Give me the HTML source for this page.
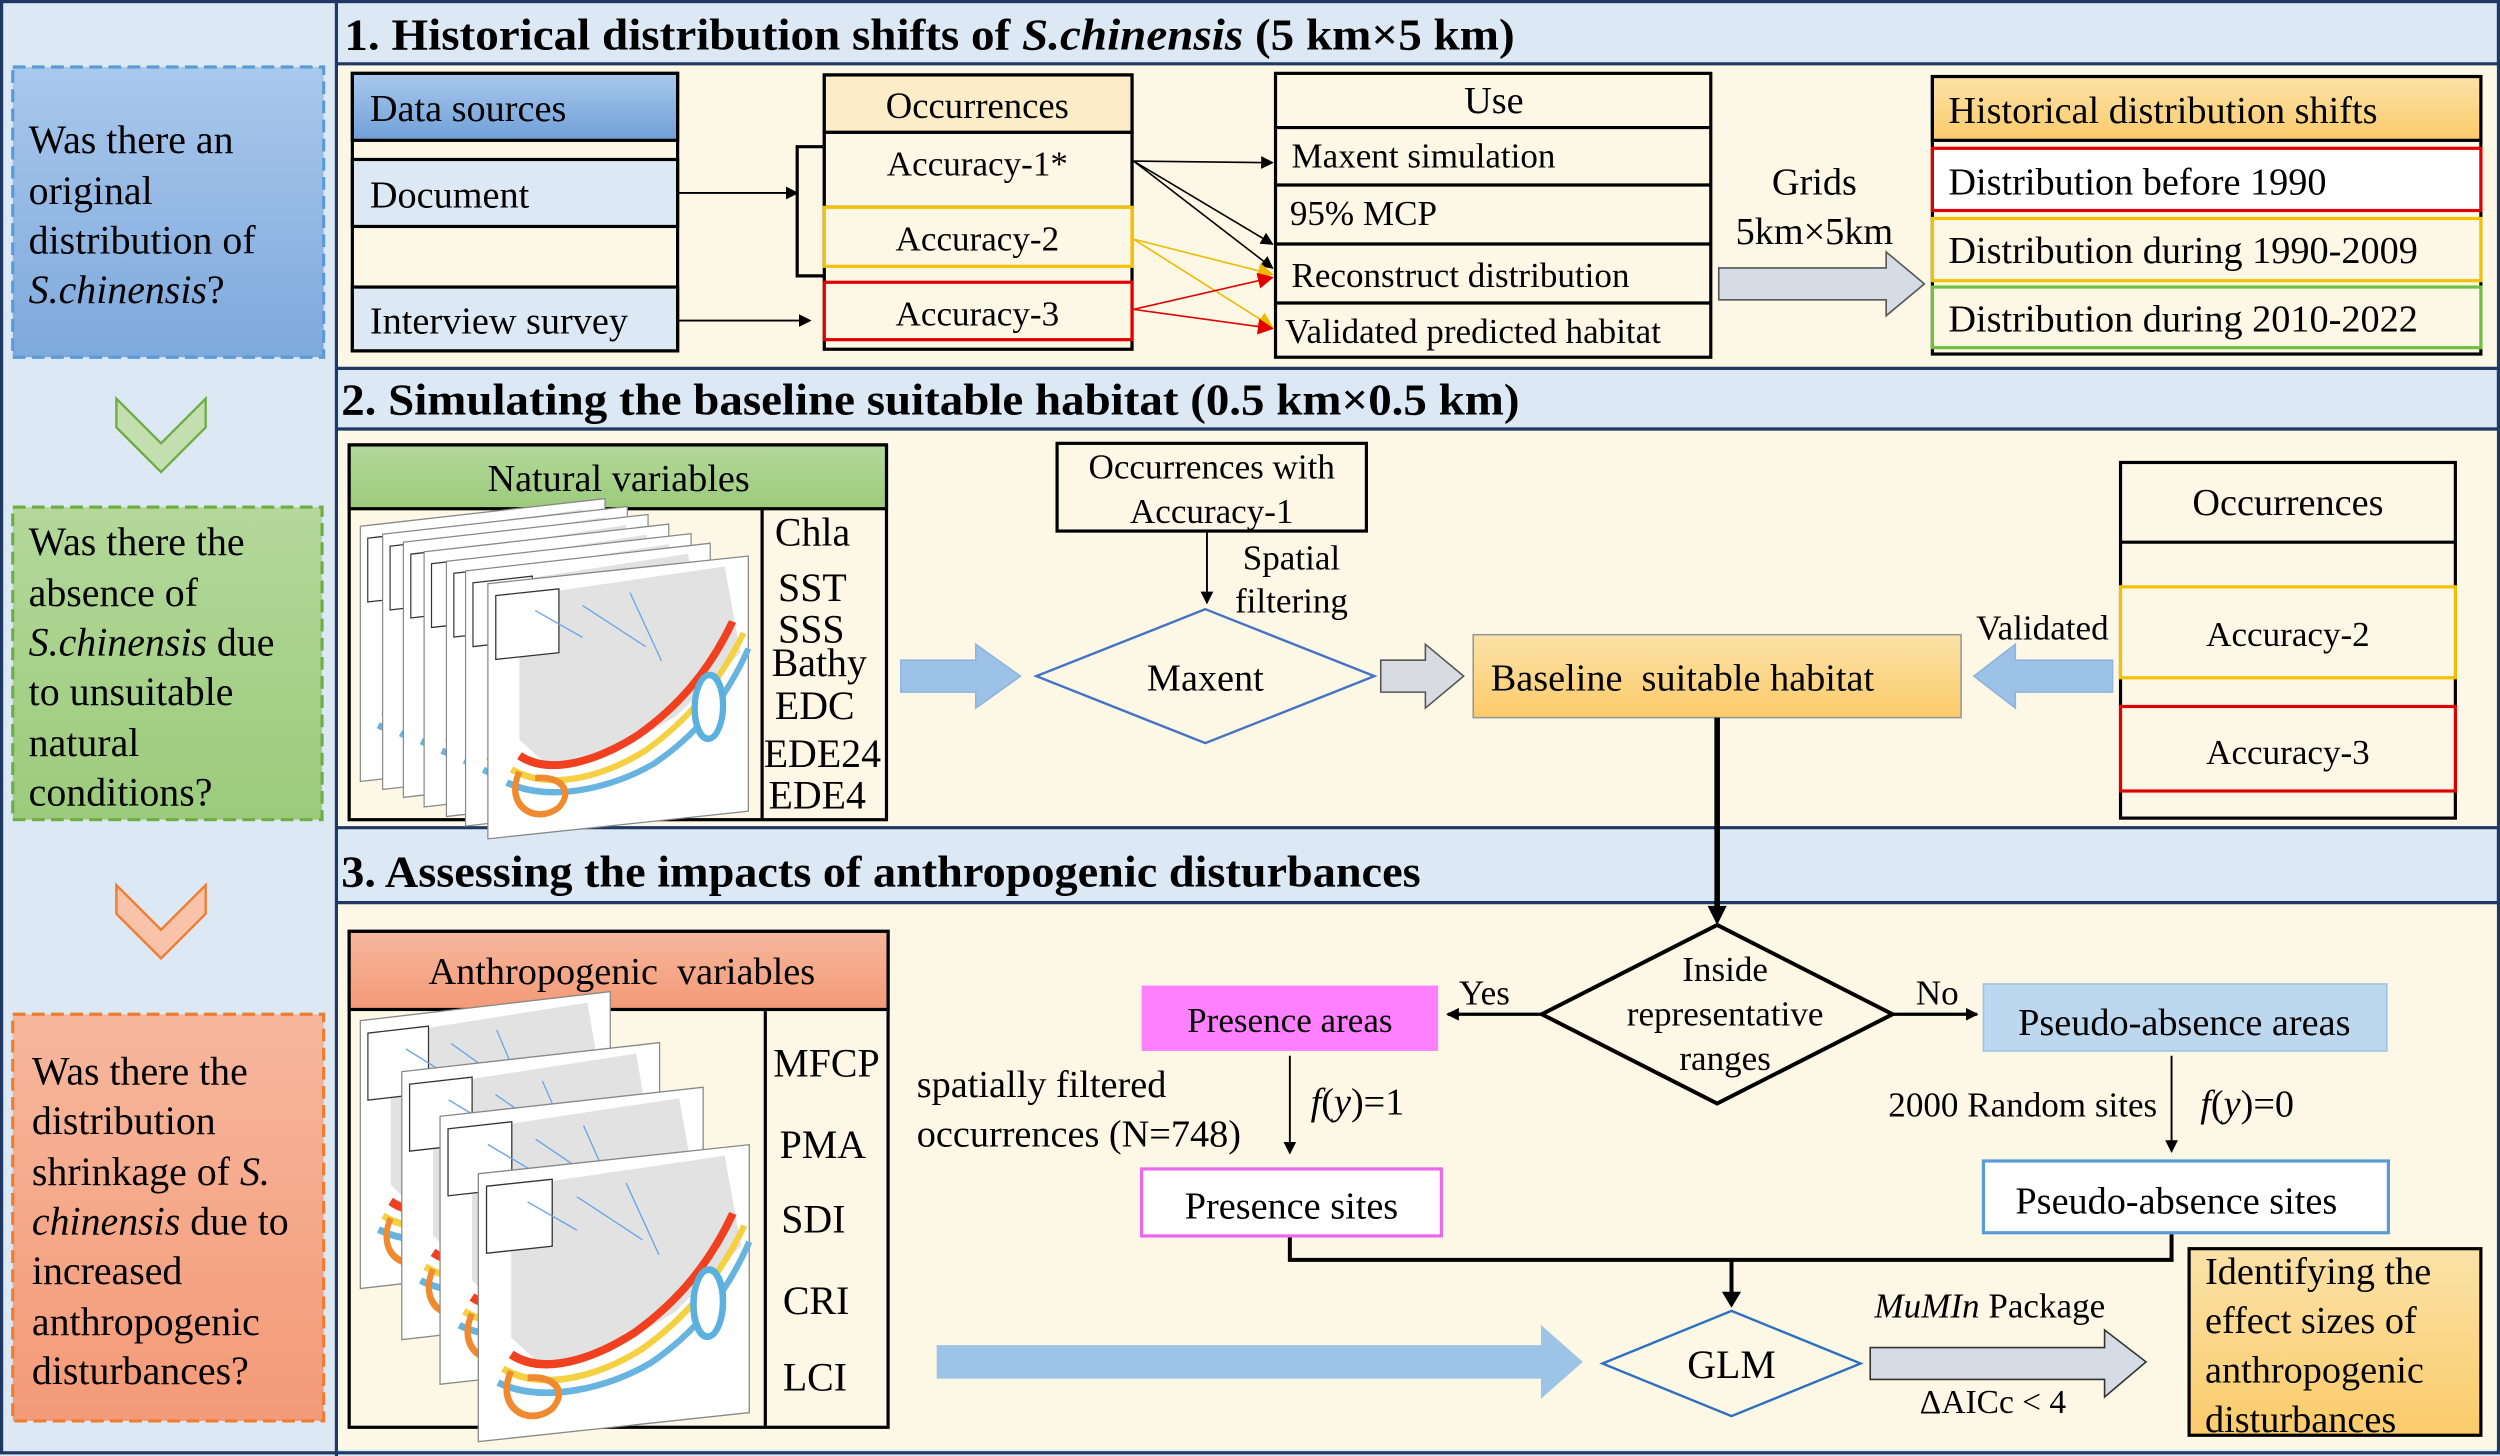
<!DOCTYPE html>
<html><head><meta charset="utf-8"><style>
html,body{margin:0;padding:0;background:#dce9f5;}
svg{display:block;font-family:"Liberation Serif",serif;}
</style></head><body>
<svg width="2500" height="1456" viewBox="0 0 1568 913" preserveAspectRatio="none" xmlns="http://www.w3.org/2000/svg">
<defs>
<marker id="ak" markerWidth="8" markerHeight="8" refX="7" refY="4" orient="auto" markerUnits="userSpaceOnUse"><path d="M0,0 L8,4 L0,8z" fill="#000"/></marker>
<marker id="ay" markerWidth="10" markerHeight="10" refX="9" refY="5" orient="auto" markerUnits="userSpaceOnUse"><path d="M0,0 L10,5 L0,10z" fill="#f2b800"/></marker>
<marker id="ar" markerWidth="10" markerHeight="10" refX="9" refY="5" orient="auto" markerUnits="userSpaceOnUse"><path d="M0,0 L10,5 L0,10z" fill="#e00000"/></marker>
<linearGradient id="gb" x1="0" y1="0" x2="0" y2="1"><stop offset="0" stop-color="#a9c8ec"/><stop offset="1" stop-color="#7ea9dc"/></linearGradient>
<linearGradient id="gg" x1="0" y1="0" x2="0" y2="1"><stop offset="0" stop-color="#b4d89a"/><stop offset="1" stop-color="#9ccb7c"/></linearGradient>
<linearGradient id="go" x1="0" y1="0" x2="0" y2="1"><stop offset="0" stop-color="#f7b79c"/><stop offset="1" stop-color="#f39a78"/></linearGradient>
<linearGradient id="gy" x1="0" y1="0" x2="0" y2="1"><stop offset="0" stop-color="#fbe2a8"/><stop offset="1" stop-color="#fbcb6a"/></linearGradient>
<linearGradient id="ghd" x1="0" y1="0" x2="0" y2="1"><stop offset="0" stop-color="#a9c9ec"/><stop offset="1" stop-color="#6f9fd8"/></linearGradient>
<g id="sheet">
<rect x="0" y="0" width="165" height="160" fill="#fff" stroke="#888" stroke-width="0.8"/>
<path d="M20,10 L150,5 L160,60 L120,95 L80,115 L40,120 L20,100z" fill="#e2e2e2"/>
<path d="M20,110 C40,125 70,118 95,105 C120,90 140,70 155,40" fill="none" stroke="#f04020" stroke-width="5"/>
<path d="M15,118 C40,135 75,128 100,115 C125,100 145,80 162,48" fill="none" stroke="#f5d040" stroke-width="4"/>
<path d="M12,126 C40,142 80,136 105,124 C130,110 150,90 165,58" fill="none" stroke="#68b4e0" stroke-width="4"/>
<ellipse cx="140" cy="92" rx="9" ry="20" fill="#fff" stroke="#5ab0de" stroke-width="4"/>
<path d="M20,120 C10,140 30,155 45,145 C55,135 45,125 30,125" fill="none" stroke="#f08a30" stroke-width="4"/>
<rect x="5" y="8" width="40" height="40" fill="#fff" stroke="#333" stroke-width="0.8"/>
<path d="M30,20 L60,40 M60,20 L100,50 M90,15 L110,60" stroke="#6aa6e8" stroke-width="0.8" fill="none"/>
</g>
</defs>
<rect width="1568" height="913" fill="#dce9f5"/>
<rect x="1" y="1" width="1566" height="910" fill="none" stroke="#1f3864" stroke-width="2"/>
<line x1="211" y1="0" x2="211" y2="913" stroke="#1f3864" stroke-width="2"/>
<rect x="212" y="40" width="1354" height="190" fill="#fdf8e6"/>
<rect x="212" y="270" width="1354" height="248" fill="#fdf8e6"/>
<rect x="212" y="567" width="1354" height="342" fill="#fdf8e6"/>
<g stroke="#1f3864" stroke-width="2">
<line x1="211" y1="40" x2="1567" y2="40"/><line x1="211" y1="231" x2="1567" y2="231"/>
<line x1="211" y1="269" x2="1567" y2="269"/><line x1="211" y1="519" x2="1567" y2="519"/>
<line x1="211" y1="566" x2="1567" y2="566"/>
</g>
<g font-weight="bold" font-size="28">
<text x="216" y="31" textLength="734" lengthAdjust="spacingAndGlyphs">1. Historical distribution shifts of <tspan font-style="italic">S.chinensis</tspan> (5 km×5 km)</text>
<text x="214" y="260" textLength="739" lengthAdjust="spacingAndGlyphs">2. Simulating the baseline suitable habitat (0.5 km×0.5 km)</text>
<text x="214" y="556" textLength="677" lengthAdjust="spacingAndGlyphs">3. Assessing the impacts of anthropogenic disturbances</text>
</g>
<rect x="8" y="42" width="195" height="182" fill="url(#gb)" stroke="#5b9bd5" stroke-width="2" stroke-dasharray="8,4"/>
<g font-size="25"><text x="18" y="96">Was there an</text><text x="18" y="128">original</text><text x="18" y="159">distribution of</text><text x="18" y="190"><tspan font-style="italic">S.chinensis</tspan>?</text></g>
<path d="M73,250 L101,278 L129,250 L129,268 L101,296 L73,268z" fill="#c5e0b0" stroke="#70ad47" stroke-width="1.5"/>
<rect x="8" y="318" width="194" height="196" fill="url(#gg)" stroke="#70ad47" stroke-width="2" stroke-dasharray="8,4"/>
<g font-size="25"><text x="18" y="348">Was there the</text><text x="18" y="380">absence of</text><text x="18" y="411"><tspan font-style="italic">S.chinensis</tspan> due</text><text x="18" y="442">to unsuitable</text><text x="18" y="474">natural</text><text x="18" y="505">conditions?</text></g>
<path d="M73,555 L101,583 L129,555 L129,573 L101,601 L73,573z" fill="#f8c3a8" stroke="#ed7d31" stroke-width="1.5"/>
<rect x="8" y="636" width="195" height="255" fill="url(#go)" stroke="#ed7d31" stroke-width="2" stroke-dasharray="8,4"/>
<g font-size="25"><text x="20" y="680">Was there the</text><text x="20" y="711">distribution</text><text x="20" y="743">shrinkage of <tspan font-style="italic">S.</tspan></text><text x="20" y="774"><tspan font-style="italic">chinensis</tspan> due to</text><text x="20" y="805">increased</text><text x="20" y="837">anthropogenic</text><text x="20" y="868">disturbances?</text></g>

<rect x="221" y="46" width="204" height="174" fill="#fdf8e6" stroke="#000" stroke-width="2"/>
<rect x="221" y="46" width="204" height="42" fill="url(#ghd)" stroke="#000" stroke-width="2"/>
<rect x="221" y="100" width="204" height="42" fill="#dce9f5" stroke="#000" stroke-width="2"/>
<rect x="221" y="180" width="204" height="40" fill="#dce9f5" stroke="#000" stroke-width="2"/>
<g font-size="24"><text x="232" y="76">Data sources</text><text x="232" y="130">Document</text><text x="232" y="209">Interview survey</text></g>
<path d="M425,121 L500,121" stroke="#000" stroke-width="1.2" marker-end="url(#ak)" fill="none"/>
<path d="M517,92 L500,92 L500,173 L517,173" stroke="#000" stroke-width="2" fill="none"/>
<path d="M425,201 L508,201" stroke="#000" stroke-width="1.2" marker-end="url(#ak)"/>
<rect x="517" y="47" width="193" height="172" fill="#fdf8e6" stroke="#000" stroke-width="2"/>
<rect x="517" y="47" width="193" height="36" fill="#fcecc8" stroke="#000" stroke-width="2"/>
<rect x="517" y="83" width="193" height="47" fill="#fdf8e6" stroke="#000" stroke-width="2"/>
<rect x="517" y="130" width="193" height="37" fill="#fdf8e6" stroke="#f5c000" stroke-width="2"/>
<rect x="517" y="177" width="193" height="36" fill="#fdf8e6" stroke="#e00000" stroke-width="2"/>
<g font-size="23" text-anchor="middle"><text x="613" y="74">Occurrences</text><text x="613" y="110" font-size="22">Accuracy-1*</text><text x="613" y="157" font-size="22">Accuracy-2</text><text x="613" y="204" font-size="22">Accuracy-3</text></g>
<rect x="800" y="46" width="273" height="178" fill="#fdf8e6" stroke="#000" stroke-width="2"/>
<g stroke="#000" stroke-width="2"><line x1="800" y1="80" x2="1073" y2="80"/><line x1="800" y1="116" x2="1073" y2="116"/><line x1="800" y1="153" x2="1073" y2="153"/><line x1="800" y1="190" x2="1073" y2="190"/></g>
<g font-size="22"><text x="937" y="71" text-anchor="middle" font-size="24">Use</text><text x="810" y="105">Maxent simulation</text><text x="809" y="141">95% MCP</text><text x="810" y="180">Reconstruct distribution</text><text x="806" y="215">Validated predicted habitat</text></g>
<g stroke-width="1">
<path d="M711,101 L798,102" stroke="#000" marker-end="url(#ak)"/>
<path d="M711,101 L798,153" stroke="#000" marker-end="url(#ak)"/>
<path d="M711,101 L798,168" stroke="#000" marker-end="url(#ak)"/>
<path d="M711,150 L798,172" stroke="#f2b800" marker-end="url(#ay)"/>
<path d="M711,150 L798,205" stroke="#f2b800" marker-end="url(#ay)"/>
<path d="M711,194 L798,174" stroke="#e00000" marker-end="url(#ar)"/>
<path d="M711,194 L798,206" stroke="#e00000" marker-end="url(#ar)"/>
</g>
<g font-size="24" text-anchor="middle"><text x="1138" y="122">Grids</text><text x="1138" y="153">5km×5km</text></g>
<path d="M1078,168 L1183,168 L1183,158 L1207,178 L1183,198 L1183,188 L1078,188z" fill="#d5dce6" stroke="#555" stroke-width="1"/>
<rect x="1212" y="48" width="344" height="174" fill="#fdf8e6" stroke="#000" stroke-width="2"/>
<rect x="1212" y="48" width="344" height="40" fill="url(#gy)" stroke="#000" stroke-width="2"/>
<rect x="1212" y="93" width="344" height="39" fill="#fff" stroke="#e00000" stroke-width="2"/>
<rect x="1212" y="137" width="344" height="39" fill="#fdf8e6" stroke="#f5c000" stroke-width="2"/>
<rect x="1212" y="180" width="344" height="38" fill="#fdf8e6" stroke="#70c040" stroke-width="2"/>
<g font-size="24"><text x="1222" y="77">Historical distribution shifts</text><text x="1222" y="122">Distribution before 1990</text><text x="1222" y="165">Distribution during 1990-2009</text><text x="1222" y="208">Distribution during 2010-2022</text></g>

<rect x="219" y="279" width="337" height="235" fill="#fdf8e6" stroke="#000" stroke-width="2"/>
<rect x="219" y="279" width="337" height="40" fill="url(#gg)" stroke="#000" stroke-width="2"/>
<line x1="478" y1="319" x2="478" y2="514" stroke="#000" stroke-width="2"/>
<text x="388" y="308" font-size="24" text-anchor="middle">Natural variables</text>
<g>
<use href="#sheet" transform="translate(226,330) scale(0.93,1) skewY(-6)"/>
<use href="#sheet" transform="translate(240,335) scale(0.93,1) skewY(-6)"/>
<use href="#sheet" transform="translate(253,340) scale(0.93,1) skewY(-6)"/>
<use href="#sheet" transform="translate(266,346) scale(0.93,1) skewY(-6)"/>
<use href="#sheet" transform="translate(280,352) scale(0.93,1) skewY(-6)"/>
<use href="#sheet" transform="translate(292,358) scale(0.93,1) skewY(-6)"/>
<use href="#sheet" transform="translate(306,366) scale(0.99,1) skewY(-6)"/>
</g>
<g font-size="25"><text x="486" y="342">Chla</text><text x="488" y="377">SST</text><text x="488" y="403">SSS</text><text x="484" y="424">Bathy</text><text x="486" y="451">EDC</text><text x="479" y="481">EDE24</text><text x="482" y="507">EDE4</text></g>
<path d="M565,414 L612,414 L612,404 L640,424 L612,444 L612,434 L565,434z" fill="#9cc2e8" stroke="#8fb4de"/>
<rect x="663" y="278" width="194" height="55" fill="#fdf8e6" stroke="#000" stroke-width="2"/>
<g font-size="22" text-anchor="middle"><text x="760" y="300">Occurrences with</text><text x="760" y="328">Accuracy-1</text></g>
<path d="M757,333 L757,378" stroke="#000" stroke-width="1.2" marker-end="url(#ak)"/>
<g font-size="22" text-anchor="middle"><text x="810" y="357">Spatial</text><text x="810" y="384">filtering</text></g>
<path d="M756,382 L862,424 L756,466 L650,424z" fill="#fdf8e6" stroke="#4472c4" stroke-width="1.5"/>
<text x="756" y="433" font-size="24" text-anchor="middle">Maxent</text>
<path d="M866,414 L894,414 L894,404 L918,424 L894,444 L894,434 L866,434z" fill="#d8dce2" stroke="#555"/>
<rect x="924" y="398" width="306" height="52" fill="url(#gy)" stroke="#999" stroke-width="1"/>
<text x="935" y="433" font-size="24" xml:space="preserve">Baseline  suitable habitat</text>
<text x="1281" y="401" font-size="22" text-anchor="middle">Validated</text>
<path d="M1325,414 L1264,414 L1264,404 L1238,424 L1264,444 L1264,434 L1325,434z" fill="#9cc2e8" stroke="#8fb4de"/>
<rect x="1330" y="290" width="210" height="223" fill="#fdf8e6" stroke="#000" stroke-width="2"/>
<line x1="1330" y1="340" x2="1540" y2="340" stroke="#000" stroke-width="2"/>
<rect x="1330" y="368" width="210" height="57" fill="#fdf8e6" stroke="#f5c000" stroke-width="2"/>
<rect x="1330" y="443" width="210" height="53" fill="#fdf8e6" stroke="#e00000" stroke-width="2"/>
<g text-anchor="middle"><text x="1435" y="323" font-size="24">Occurrences</text><text x="1435" y="405" font-size="22">Accuracy-2</text><text x="1435" y="479" font-size="22">Accuracy-3</text></g>
<path d="M1077,450 L1077,572" stroke="#000" stroke-width="3.5" fill="none"/>
<path d="M1071,568 L1083,568 L1077,580z" fill="#000"/>

<rect x="219" y="584" width="338" height="311" fill="#fdf8e6" stroke="#000" stroke-width="2"/>
<rect x="219" y="584" width="338" height="49" fill="url(#go)" stroke="#000" stroke-width="2"/>
<line x1="480" y1="633" x2="480" y2="895" stroke="#000" stroke-width="2"/>
<text x="390" y="617" font-size="24" text-anchor="middle" xml:space="preserve">Anthropogenic  variables</text>
<g>
<use href="#sheet" transform="translate(226,640) scale(0.95,1.05) skewY(-6)"/>
<use href="#sheet" transform="translate(252,672) scale(0.98,1.05) skewY(-6)"/>
<use href="#sheet" transform="translate(276,700) scale(1,1.05) skewY(-6)"/>
<use href="#sheet" transform="translate(300,736) scale(1.03,1.05) skewY(-6)"/>
</g>
<g font-size="25"><text x="485" y="675">MFCP</text><text x="489" y="726">PMA</text><text x="490" y="773">SDI</text><text x="491" y="824">CRI</text><text x="491" y="872">LCI</text></g>
<path d="M1077,580 L1187,636 L1077,692 L967,636z" fill="#fdf8e6" stroke="#000" stroke-width="2.5"/>
<g font-size="22" text-anchor="middle"><text x="1082" y="615">Inside</text><text x="1082" y="643">representative</text><text x="1082" y="671">ranges</text></g>
<path d="M967,636 L908,636" stroke="#000" stroke-width="2" marker-end="url(#ak)"/>
<text x="931" y="630" font-size="22" text-anchor="middle">Yes</text>
<path d="M1187,636 L1240,636" stroke="#000" stroke-width="2" marker-end="url(#ak)"/>
<text x="1215" y="630" font-size="22" text-anchor="middle">No</text>
<rect x="716" y="618" width="186" height="41" fill="#ff80ff"/>
<text x="809" y="647" font-size="22" text-anchor="middle">Presence areas</text>
<rect x="1244" y="617" width="253" height="42" fill="#bdd7ee" stroke="#9dc3e6"/>
<text x="1370" y="649" font-size="24" text-anchor="middle">Pseudo-absence areas</text>
<path d="M809,662 L809,723" stroke="#000" stroke-width="1.2" marker-end="url(#ak)"/>
<text x="822" y="699" font-size="24"><tspan font-style="italic">f</tspan>(<tspan font-style="italic">y</tspan>)=1</text>
<g font-size="24"><text x="575" y="688">spatially filtered</text><text x="575" y="719">occurrences (N=748)</text></g>
<rect x="716" y="733" width="188" height="42" fill="#fff" stroke="#ee66ee" stroke-width="2"/>
<text x="810" y="764" font-size="24" text-anchor="middle">Presence sites</text>
<path d="M1362,662 L1362,722" stroke="#000" stroke-width="1.2" marker-end="url(#ak)"/>
<text x="1353" y="700" font-size="22" text-anchor="end">2000 Random sites</text>
<text x="1380" y="700" font-size="24"><tspan font-style="italic">f</tspan>(<tspan font-style="italic">y</tspan>)=0</text>
<rect x="1244" y="728" width="254" height="45" fill="#fff" stroke="#5b9bd5" stroke-width="2"/>
<text x="1365" y="761" font-size="24" text-anchor="middle">Pseudo-absence sites</text>
<path d="M809,776 L809,790 L1362,790 L1362,774" stroke="#000" stroke-width="2.5" fill="none"/>
<path d="M1086,790 L1086,812" stroke="#000" stroke-width="2.5"/>
<path d="M1080,810 L1092,810 L1086,820z" fill="#000"/>
<path d="M588,844 L967,844 L967,832 L992,854 L967,876 L967,864 L588,864z" fill="#9dc3e6" stroke="#9dc3e6"/>
<path d="M1086,822 L1167,855 L1086,888 L1005,855z" fill="#fdf8e6" stroke="#2e6fbe" stroke-width="1.5"/>
<text x="1086" y="864" font-size="25" text-anchor="middle">GLM</text>
<text x="1248" y="826" font-size="22" text-anchor="middle"><tspan font-style="italic">MuMIn</tspan> Package</text>
<path d="M1173,845 L1320,845 L1320,834 L1346,854 L1320,876 L1320,865 L1173,865z" fill="#d5dce6" stroke="#333" stroke-width="1"/>
<text x="1250" y="886" font-size="21" text-anchor="middle">ΔAICc &lt; 4</text>
<rect x="1373" y="783" width="183" height="117" fill="url(#gy)" stroke="#000" stroke-width="2"/>
<g font-size="24"><text x="1383" y="805">Identifying the</text><text x="1383" y="836">effect sizes of</text><text x="1383" y="867">anthropogenic</text><text x="1383" y="898">disturbances</text></g>
</svg>
</body></html>
